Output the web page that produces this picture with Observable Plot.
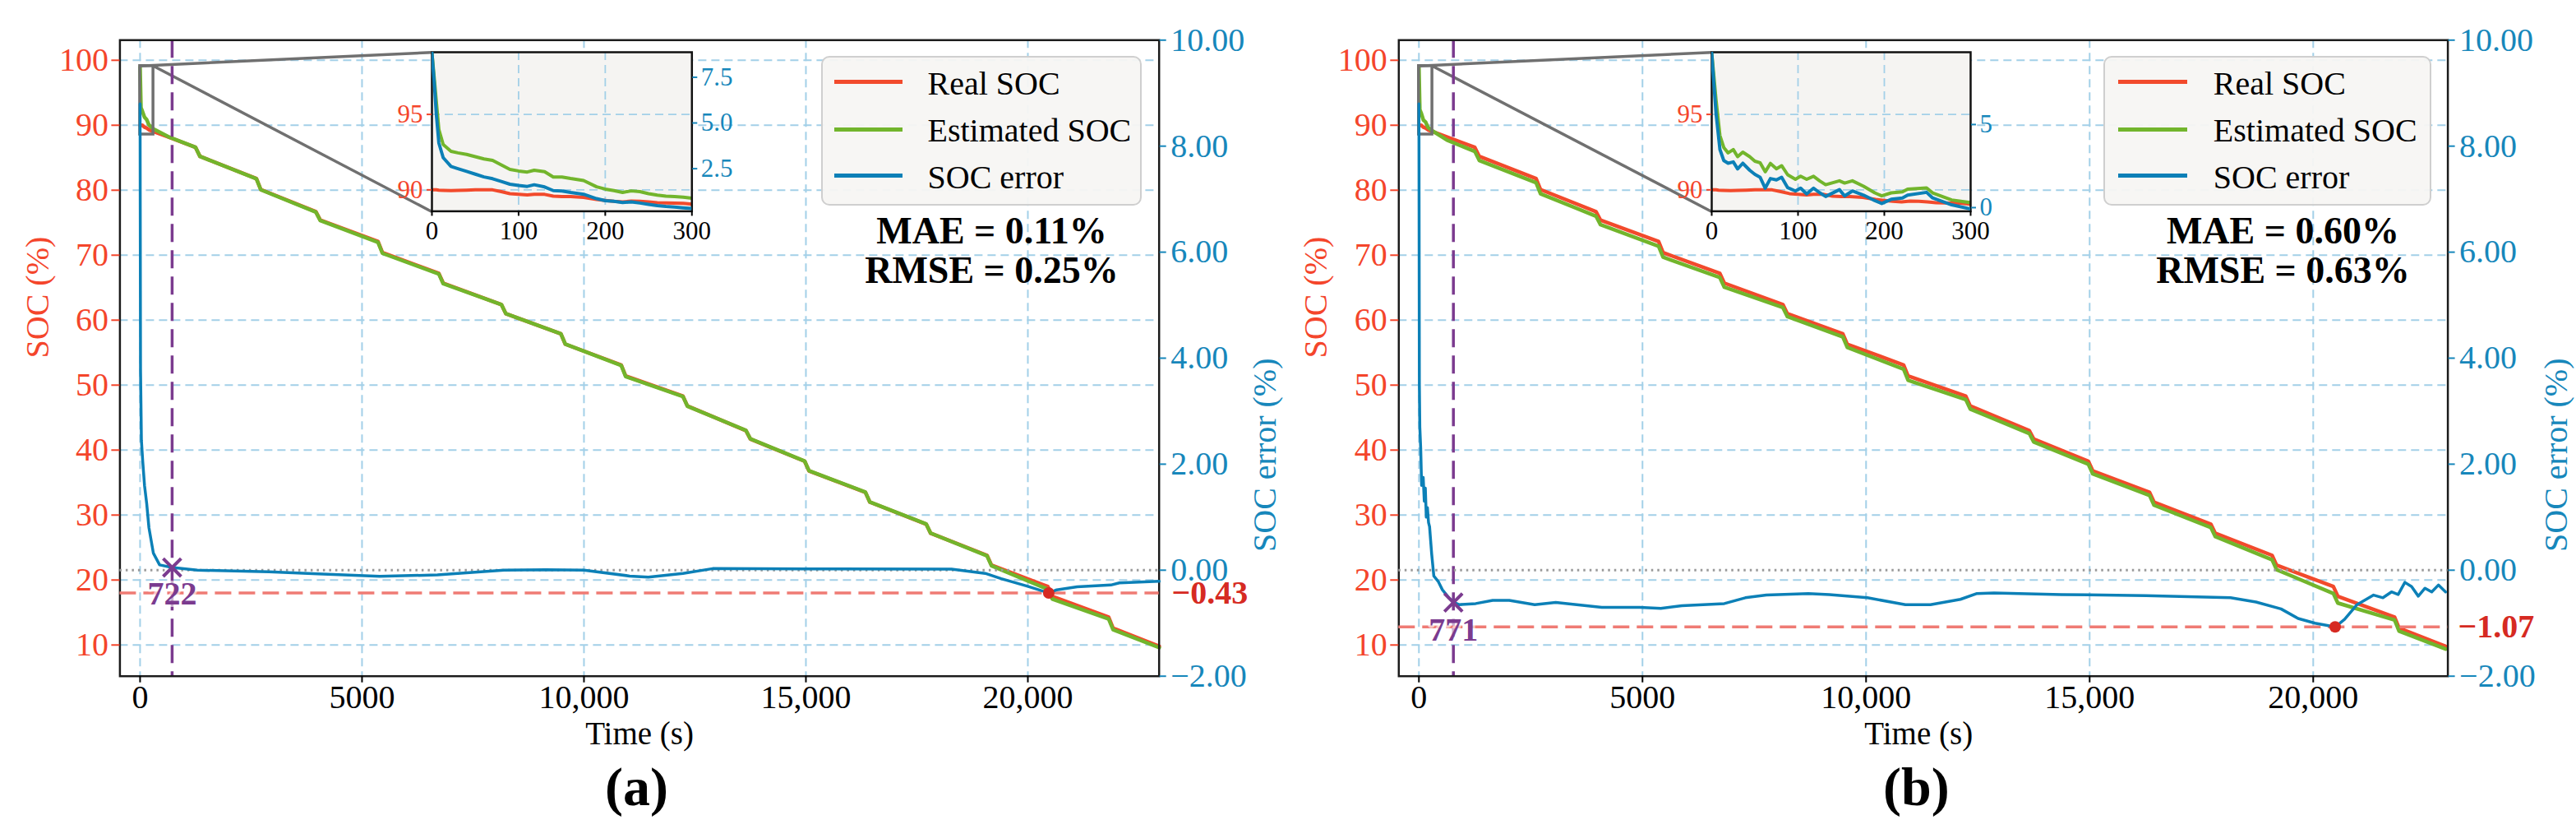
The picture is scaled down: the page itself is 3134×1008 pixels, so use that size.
<!DOCTYPE html>
<html>
<head>
<meta charset="utf-8">
<script src="https://cdn.jsdelivr.net/npm/d3@7"></script>
<script src="https://cdn.jsdelivr.net/npm/@observablehq/plot@0.6"></script>
<style>
  html, body { margin: 0; padding: 0; background: #fff; }
  #root { position: relative; width: 3134px; height: 1008px; overflow: hidden; background: #fff;
          font-family: "Liberation Serif", "Times New Roman", serif; }
  #root svg { overflow: visible; font-family: "Liberation Serif", "Times New Roman", serif !important; }
  #root svg text, #root svg g { font-family: "Liberation Serif", "Times New Roman", serif !important; }
</style>
</head>
<body>
<div id="root"></div>
<script>
// ---------------- DATA ----------------
const seriesNames = ["Real SOC", "Estimated SOC", "SOC error"];
const panelLabels = ["(a)", "(b)"];
const maeText = ["MAE = 0.11%", "MAE = 0.60%"];
const rmseText = ["RMSE = 0.25%", "RMSE = 0.63%"];

// main SOC curves (time in s)
const timeMain = [0, 20, 50, 100, 150, 200, 300, 630, 1250, 1350, 2620, 2720, 3960, 4060, 5360, 5460, 6730, 6830, 8140, 8240, 9480, 9580, 10840, 10940, 12230, 12330, 13650, 13750, 14970, 15070, 16340, 16440, 17710, 17810, 19080, 19180, 20450, 20550, 21820, 21920, 22960];
const realSOC = [90.0, 89.96, 90.0, 89.7, 89.56, 89.3, 89.05, 88.2, 86.6, 85.2, 81.8, 80.1, 76.7, 75.4, 72.1, 70.4, 67.2, 65.7, 62.4, 61.0, 57.9, 56.3, 53.1, 51.4, 48.3, 46.8, 43.0, 41.7, 38.3, 36.8, 33.5, 32.0, 28.6, 27.2, 23.8, 22.3, 19.0, 17.5, 14.3, 12.6, 9.8];
const estSOC_a = [99.0, 92.7, 92.2, 91.25, 90.85, 90.05, 89.44, 88.26, 86.6, 85.2, 81.77, 80.07, 76.63, 75.33, 71.99, 70.29, 67.11, 65.61, 62.4, 61.0, 57.91, 56.31, 53.02, 51.31, 48.25, 46.77, 43.02, 41.72, 38.32, 36.82, 33.52, 32.02, 28.62, 27.22, 23.73, 22.21, 18.57, 17.09, 14.02, 12.35, 9.59];
const estSOC_b = [99.1, 92.4, 91.9, 90.8, 90.5, 89.7, 89.15, 87.7, 85.97, 84.58, 81.15, 79.46, 76.01, 74.7, 71.38, 69.69, 66.56, 65.07, 61.94, 60.55, 57.42, 55.81, 52.45, 50.75, 47.78, 46.32, 42.56, 41.26, 37.84, 36.34, 33.02, 31.52, 28.09, 26.69, 23.12, 21.6, 17.94, 16.46, 13.85, 12.15, 9.39];

// SOC error curves
const errTime_a = [0, 10, 30, 60, 100, 150, 200, 300, 440, 722, 1290, 2900, 4000, 5400, 6700, 8200, 9140, 10000, 11030, 11450, 12230, 12900, 15000, 18280, 19040, 19400, 19980, 20470, 20650, 21110, 21870, 22060, 22960];
const err_a = [8.8, 3.8, 2.45, 2.05, 1.6, 1.25, 0.8, 0.32, 0.1, 0.05, 0.0, -0.03, -0.07, -0.115, -0.09, 0.0, 0.01, 0.0, -0.11, -0.13, -0.06, 0.03, 0.025, 0.02, -0.06, -0.16, -0.30, -0.43, -0.37, -0.315, -0.28, -0.24, -0.21];
const errTime_b = [0, 10, 20, 40, 60, 96, 120, 143, 165, 190, 215, 238, 285, 333, 430, 525, 670, 771, 895, 1270, 1650, 2020, 2590, 3060, 3530, 4090, 4940, 5410, 5880, 6830, 7300, 7770, 8710, 9180, 10030, 10880, 11440, 12110, 12480, 12860, 14370, 16260, 18150, 18720, 19280, 19660, 20040, 20490, 20700, 20980, 21350, 21560, 21750, 21900, 22050, 22200, 22350, 22500, 22650, 22800, 22960];
const err_b = [8.8, 3.5, 2.7, 2.3, 1.6, 1.75, 1.3, 1.55, 1.0, 1.18, 0.9, 0.82, 0.31, -0.11, -0.21, -0.37, -0.52, -0.60, -0.65, -0.63, -0.57, -0.57, -0.65, -0.61, -0.65, -0.70, -0.70, -0.72, -0.67, -0.63, -0.52, -0.47, -0.44, -0.46, -0.52, -0.65, -0.65, -0.55, -0.44, -0.43, -0.46, -0.48, -0.52, -0.60, -0.73, -0.91, -1.0, -1.07, -0.93, -0.65, -0.47, -0.52, -0.41, -0.46, -0.23, -0.31, -0.49, -0.34, -0.41, -0.28, -0.41];

// inset (first 300 s)
const insetTime = [0, 3, 5, 8, 13, 22, 30, 40, 50, 60, 70, 80, 90, 100, 110, 118, 130, 140, 150, 160, 175, 190, 200, 210, 220, 230, 240, 250, 260, 270, 280, 290, 300];
const insetReal = [90.0, 90.0, 90.0, 89.98, 89.97, 89.95, 89.96, 89.98, 90.0, 90.0, 90.0, 89.88, 89.75, 89.7, 89.66, 89.7, 89.7, 89.58, 89.56, 89.56, 89.5, 89.36, 89.3, 89.24, 89.2, 89.25, 89.24, 89.2, 89.15, 89.13, 89.12, 89.1, 89.05];
const insetEst_a = [99.1, 97.2, 95.9, 94.0, 93.0, 92.55, 92.45, 92.35, 92.2, 92.05, 91.95, 91.65, 91.35, 91.25, 91.18, 91.3, 91.2, 90.85, 90.85, 90.75, 90.62, 90.2, 90.05, 89.95, 89.83, 89.93, 89.88, 89.75, 89.65, 89.58, 89.55, 89.52, 89.44];
const insetErr_a = [8.85, 7.0, 5.5, 3.9, 3.1, 2.62, 2.5, 2.35, 2.2, 2.05, 1.95, 1.8, 1.65, 1.58, 1.53, 1.62, 1.5, 1.3, 1.28, 1.2, 1.1, 0.86, 0.75, 0.72, 0.65, 0.68, 0.62, 0.55, 0.48, 0.43, 0.4, 0.36, 0.32];
const insetTime_b = [0, 5, 9.5, 14, 19, 25, 30, 36, 44, 50, 56, 62, 68, 75, 81, 88, 97, 103, 110, 118, 125, 132, 148, 154, 163, 176, 189, 197, 208, 221, 227, 249, 256, 278, 300];
const insetEst_b = [99.1, 95.96, 93.6, 92.8, 92.45, 92.67, 92.2, 92.5, 92.2, 91.9, 91.8, 91.2, 91.75, 91.4, 91.6, 91.0, 90.7, 90.9, 90.7, 90.9, 90.6, 90.34, 90.6, 90.45, 90.6, 90.24, 89.8, 89.6, 89.8, 89.87, 90.05, 90.13, 89.8, 89.33, 89.15];
const insetErr_b = [9.3, 5.67, 3.5, 2.83, 2.67, 2.75, 2.33, 2.67, 2.25, 2.0, 1.83, 1.17, 1.75, 1.67, 1.83, 1.2, 1.0, 1.17, 0.83, 1.17, 0.9, 0.67, 1.08, 0.7, 1.0, 0.75, 0.42, 0.25, 0.5, 0.58, 0.75, 0.92, 0.58, 0.17, -0.08];

// annotations
const convergeTime = [722, 771];
const convergeErr = [0.05, -0.61];
const minErrTime = [20470, 20490];
const minErr = [-0.43, -1.07];

// ticks and domains
const xTicks = [0, 5000, 10000, 15000, 20000];
const socTicks = [10, 20, 30, 40, 50, 60, 70, 80, 90, 100];
const errTicks = [-2, 0, 2, 4, 6, 8, 10];
const insetXTicks = [0, 100, 200, 300];
const insetSocTicks = [90, 95];
const insetErrTicks = [[2.5, 5, 7.5], [0, 5]];
const socDomain = [5.2, 103.1];
const errDomain = [-2, 10];
const insetXDomain = [0, 300];
const insetSocDomain = [88.58, 99.12];
const insetErrDomains = [[0.17, 8.87], [-0.22, 9.35]];

// ---------------- LAYOUT & STYLE ----------------
const W = 3134, H = 1008;
const FONT = '"Liberation Serif", "Times New Roman", serif';
const C = {red: "#F24A2C", redTick: "#F4452B", green: "#72B52C", blue: "#0C80B7", blueTick: "#1787BB",
  purple: "#7B3B8F", grid: "#a3d0e8", dashRed: "#EF7B74", darkRed: "#D62A22", gray: "#707070", dotted: "#9a9a9a"};
const seriesColors = [C.red, C.green, C.blue];
const insetErrFormat = [".1f", "d"];

const layout = [
  { svgLeft: 0, svgWidth: 1560, frame: {L: 145.4, R: 1409.7, T: 48.3, B: 821.7}, xDomain: [-454, 22957],
    inset: {L: 524.5, R: 840.8, T: 63.3, B: 256.7},
    legend: {L: 999, T: 68, W: 390, H: 182, lineL: 14, lineW: 83, textL: 127.5, rowY: [29.7, 87, 143.7]},
    metricT: 19185, maeDy: 232, rmseDy: 280, yLabelDx: -99.4, yLabelRDx: 128.8,
    convLabelDy: 32, minLabelDx: 15.3, xLabelDx: 0, xLabelDy: 70.8, panelLabelDx: -3.5, panelLabelDy: 136 },
  { svgLeft: 1560, svgWidth: 1574, frame: {L: 1701.3, R: 2977.6, T: 48.3, B: 821.7}, xDomain: [-450, 23011],
    inset: {L: 2081.7, R: 2396.7, T: 63.3, B: 256.7},
    legend: {L: 2559, T: 68.3, W: 399, H: 182, lineL: 15.5, lineW: 84, textL: 131.8, rowY: [29.7, 87, 143.7]},
    metricT: 19323, maeDy: 232, rmseDy: 280, yLabelDx: -100.5, yLabelRDx: 132.4,
    convLabelDy: 34, minLabelDx: 12.4, xLabelDx: -5.7, xLabelDy: 70.8, panelLabelDx: -8.5, panelLabelDy: 136 }
];

const root = document.getElementById("root");
function place(node, left, top, width, height) {
  const w = document.createElement("div");
  w.style.cssText = `position:absolute;left:${left}px;top:${top}px;width:${width}px;height:${height}px;`;
  w.appendChild(node);
  root.appendChild(w);
}
const rows = (ts, vs) => ts.map((t, i) => ({t, v: vs[i]}));
const baseStyle = {fontFamily: FONT, background: "transparent", overflow: "visible", maxWidth: "none"};
const fmtTime = d => d >= 10000 ? d3.format(",")(d) : String(d);
const gridOpts = {stroke: C.grid, strokeOpacity: 1, strokeWidth: 2, strokeDasharray: "10,6"};
const T = {fontFamily: FONT, lineAnchor: "middle"};
const A = {fontFamily: FONT, label: null, strokeWidth: 2};

function drawPanel(i) {
  const p = layout[i], f = p.frame;
  const m = {marginLeft: f.L - p.svgLeft, marginRight: p.svgLeft + p.svgWidth - f.R, marginTop: f.T, marginBottom: H - f.B};
  const xPix = d3.scaleLinear(p.xDomain, [f.L, f.R]);
  const yPix = d3.scaleLinear(socDomain, [f.B, f.T]);
  const ib = p.inset;
  const insetT = xPix.invert(ib.L), insetTop = yPix.invert(ib.T), insetBot = yPix.invert(ib.B);
  const est = i === 0 ? estSOC_a : estSOC_b;
  const errT = i === 0 ? errTime_a : errTime_b;
  const errV = i === 0 ? err_a : err_b;

  // ---- main SOC layer (left axis) ----
  const socPlot = Plot.plot({
    width: p.svgWidth, height: H, ...m,
    x: {type: "linear", domain: p.xDomain},
    y: {type: "linear", domain: socDomain},
    style: baseStyle,
    marks: [
      Plot.gridX({ticks: xTicks, ...gridOpts}),
      Plot.gridY({ticks: socTicks, ...gridOpts}),
      Plot.line(rows(timeMain, realSOC), {x: "t", y: "v", stroke: C.red, strokeWidth: 4.5}),
      Plot.line(rows(timeMain, est), {x: "t", y: "v", stroke: C.green, strokeWidth: 4.5}),
      Plot.rect([{x1: insetXDomain[0], x2: insetXDomain[1], y1: insetSocDomain[0], y2: insetSocDomain[1]}],
        {x1: "x1", x2: "x2", y1: "y1", y2: "y2", fill: "none", stroke: C.gray, strokeWidth: 3.5}),
      Plot.link([
          {x1: insetXDomain[0], y1: insetSocDomain[1], x2: insetT, y2: insetTop},
          {x1: insetXDomain[1], y1: insetSocDomain[1], x2: insetT, y2: insetBot}],
        {x1: "x1", y1: "y1", x2: "x2", y2: "y2", stroke: C.gray, strokeWidth: 3.5}),
      Plot.ruleX([convergeTime[i]], {stroke: C.purple, strokeWidth: 3.5, strokeDasharray: "22,10"}),
      Plot.frame({stroke: "#1b1b1b", strokeWidth: 2.5}),
      Plot.axisY({...A, ticks: socTicks, tickSize: 10, tickPadding: 4, fontSize: 40, color: C.redTick}),
      Plot.axisX({...A, ticks: xTicks, tickFormat: fmtTime, tickSize: 8, tickPadding: 2, fontSize: 40, color: "#000"}),
      Plot.text(["SOC (%)"], {...T, text: d => d, frameAnchor: "left", rotate: -90, dx: p.yLabelDx, fontSize: 40, fill: C.redTick}),
      Plot.text(["Time (s)"], {...T, text: d => d, frameAnchor: "bottom", dx: p.xLabelDx, dy: p.xLabelDy, fontSize: 39, fill: "#000"}),
      Plot.text([panelLabels[i]], {...T, text: d => d, frameAnchor: "bottom", dx: p.panelLabelDx, dy: p.panelLabelDy, fontSize: 66, fontWeight: "bold", fill: "#000"}),
      Plot.text([maeText[i]], {...T, text: d => d, x: () => p.metricT, frameAnchor: "top", dy: p.maeDy, fontSize: 46, fontWeight: "bold", fill: "#000"}),
      Plot.text([rmseText[i]], {...T, text: d => d, x: () => p.metricT, frameAnchor: "top", dy: p.rmseDy, fontSize: 46, fontWeight: "bold", fill: "#000"})
    ]
  });
  place(socPlot, p.svgLeft, 0, p.svgWidth, H);

  // ---- error layer (right axis) ----
  const errPlot = Plot.plot({
    width: p.svgWidth, height: H, ...m,
    x: {type: "linear", domain: p.xDomain, axis: null},
    y: {type: "linear", domain: errDomain},
    style: baseStyle,
    marks: [
      Plot.ruleY([0], {stroke: C.dotted, strokeWidth: 3, strokeDasharray: "2.5,5"}),
      Plot.ruleY([minErr[i]], {stroke: C.dashRed, strokeWidth: 3.5, strokeDasharray: "20,9"}),
      Plot.line(rows(errT, errV), {x: "t", y: "v", stroke: C.blue, strokeWidth: 3.5}),
      Plot.dot([{t: minErrTime[i], v: minErr[i]}], {x: "t", y: "v", r: 7, fill: C.darkRed}),
      Plot.text([{t: convergeTime[i], v: convergeErr[i]}], {...T, x: "t", y: "v", text: d => String(d.t), dy: p.convLabelDy,
        fontSize: 40, fontWeight: "bold", fill: C.purple, stroke: "white", strokeOpacity: 0.6, strokeWidth: 6, paintOrder: "stroke"}),
      Plot.dot([{t: convergeTime[i], v: convergeErr[i]}], {x: "t", y: "v", symbol: "times", r: 10, stroke: C.purple, strokeWidth: 4}),
      Plot.axisY({...A, anchor: "right", ticks: errTicks, tickFormat: d3.format(".2f"), tickSize: 8, tickPadding: 6, fontSize: 40, color: C.blueTick}),
      Plot.text([minErr[i]], {...T, y: d => d, text: d => d3.format(".2f")(d), frameAnchor: "right", dx: p.minLabelDx, textAnchor: "start",
        fontSize: 40, fontWeight: "bold", fill: C.darkRed}),
      Plot.text(["SOC error (%)"], {...T, text: d => d, frameAnchor: "right", rotate: -90, dx: p.yLabelRDx, fontSize: 40, fill: C.blueTick})
    ]
  });
  place(errPlot, p.svgLeft, 0, p.svgWidth, H);

  // ---- inset ----
  const im = {L: 70, R: 70, T: 12, B: 55};
  const iw = ib.R - ib.L + im.L + im.R, ih = ib.B - ib.T + im.T + im.B;
  const insetEst = i === 0 ? rows(insetTime, insetEst_a) : rows(insetTime_b, insetEst_b);
  const insetErr = i === 0 ? rows(insetTime, insetErr_a) : rows(insetTime_b, insetErr_b);
  const insetSocPlot = Plot.plot({
    width: iw, height: ih, marginLeft: im.L, marginRight: im.R, marginTop: im.T, marginBottom: im.B,
    x: {type: "linear", domain: insetXDomain},
    y: {type: "linear", domain: insetSocDomain},
    style: baseStyle,
    marks: [
      Plot.frame({fill: "#f5f4f2"}),
      Plot.gridX({ticks: [100, 200], ...gridOpts, strokeWidth: 1.8}),
      Plot.gridY({ticks: insetSocTicks, ...gridOpts, strokeWidth: 1.8}),
      Plot.line(rows(insetTime, insetReal), {x: "t", y: "v", stroke: C.red, strokeWidth: 4, clip: true}),
      Plot.line(insetEst, {x: "t", y: "v", stroke: C.green, strokeWidth: 4, clip: true}),
      Plot.frame({stroke: "#111", strokeWidth: 2.5}),
      Plot.axisY({...A, ticks: insetSocTicks, tickSize: 6, tickPadding: 5, fontSize: 31, color: C.redTick}),
      Plot.axisX({...A, ticks: insetXTicks, tickSize: 6, tickPadding: 6, fontSize: 31, color: "#000"})
    ]
  });
  place(insetSocPlot, ib.L - im.L, ib.T - im.T, iw, ih);
  const insetErrPlot = Plot.plot({
    width: iw, height: ih, marginLeft: im.L, marginRight: im.R, marginTop: im.T, marginBottom: im.B,
    x: {type: "linear", domain: insetXDomain, axis: null},
    y: {type: "linear", domain: insetErrDomains[i]},
    style: baseStyle,
    marks: [
      Plot.line(insetErr, {x: "t", y: "v", stroke: C.blue, strokeWidth: 4, clip: true}),
      Plot.axisY({...A, anchor: "right", ticks: insetErrTicks[i], tickFormat: d3.format(insetErrFormat[i]), tickSize: 6, tickPadding: 5,
        fontSize: 31, color: C.blueTick})
    ]
  });
  place(insetErrPlot, ib.L - im.L, ib.T - im.T, iw, ih);

  // ---- legend ----
  const lg = p.legend;
  const box = document.createElement("div");
  box.style.cssText = `position:absolute;left:${lg.L}px;top:${lg.T}px;width:${lg.W}px;height:${lg.H}px;box-sizing:border-box;` +
    `background:rgba(246,245,243,0.94);border:2px solid #cfcfcf;border-radius:10px;`;
  seriesNames.forEach((name, k) => {
    const ln = document.createElement("div");
    ln.style.cssText = `position:absolute;left:${lg.lineL}px;top:${lg.rowY[k] - 2.5}px;width:${lg.lineW}px;height:5px;background:${seriesColors[k]};`;
    const tx = document.createElement("div");
    tx.textContent = name;
    tx.style.cssText = `position:absolute;left:${lg.textL}px;top:${lg.rowY[k]}px;transform:translateY(-46%);` +
      `font-family:${FONT};font-size:40px;line-height:1;color:#000;white-space:nowrap;`;
    box.appendChild(ln); box.appendChild(tx);
  });
  root.appendChild(box);
}

drawPanel(0);
drawPanel(1);
</script>
</body>
</html>
